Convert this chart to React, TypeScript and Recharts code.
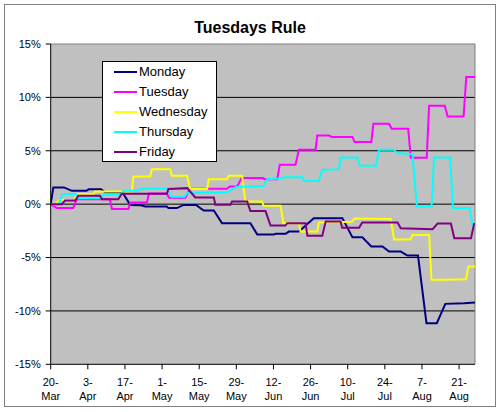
import React from 'react';
import { LineChart, Line, XAxis, YAxis, CartesianGrid, ReferenceLine, Legend } from 'recharts';

// x values are days counted from 20-Mar
const tickDays = [0, 14, 28, 42, 56, 70, 84, 98, 112, 126, 140, 154];
const tickDayLabels = ['20-', '3-', '17-', '1-', '15-', '29-', '12-', '26-', '10-', '24-', '7-', '21-'];
const tickMonthLabels = ['Mar', 'Apr', 'Apr', 'May', 'May', 'May', 'Jun', 'Jun', 'Jul', 'Jul', 'Aug', 'Aug'];
const yTicks = [-15, -10, -5, 0, 5, 10, 15];
const yGrid = [-10, -5, 0, 5, 10];

const monday: [number, number][] = [
  [0, 0], [1, 1.57], [5, 1.57], [8, 1.25], [13.5, 1.25], [14.3, 1.39], [19, 1.39], [20.5, 1.11],
  [27, 1.11], [30, -0.07], [34, -0.1], [35.6, -0.22], [43.8, -0.22], [44.4, -0.37], [47.6, -0.37],
  [50.1, -0.07], [54.8, -0.07], [57.7, -0.6], [61.5, -0.6], [64.6, -1.78], [75.3, -1.78], [77.9, -2.85],
  [84.1, -2.85], [84.8, -2.78], [88.6, -2.78], [89.8, -2.57], [93.6, -2.57], [99.2, -1.31], [110, -1.31],
  [113.8, -3.11], [117.5, -3.11], [120.9, -3.97], [125.1, -3.97], [127.6, -4.44], [132, -4.44],
  [134.5, -4.82], [138.5, -4.82], [141.7, -11.15], [145.6, -11.15], [148.8, -9.34], [155.9, -9.28], [160, -9.22],
];

const tuesday: [number, number][] = [
  [0, 0], [2.3, -0.37], [8.5, -0.37], [9.8, 0.45], [22.3, 0.45], [23.1, -0.45], [29.3, -0.45], [30, 0.15],
  [36.3, 0.15], [37, 1.0], [43.8, 1.0], [44.6, 0.6], [50.8, 0.6], [52.5, 1.45], [66.5, 1.45], [67.5, 1.65],
  [70.3, 1.65], [72, 2.44], [80, 2.44], [80.6, 2.34], [85.4, 2.34], [86.4, 3.68], [92.3, 3.68], [93.6, 5.09],
  [99.9, 5.09], [100.5, 6.43], [105, 6.43], [106, 6.3], [113.8, 6.3], [114.6, 5.81], [120.9, 5.81],
  [121.7, 7.53], [127.6, 7.53], [128.6, 7.06], [134.8, 7.06], [135.8, 4.34], [141.8, 4.34], [142.7, 9.21],
  [148.6, 9.21], [149.7, 8.21], [155.7, 8.21], [156.7, 11.9], [160, 11.9],
];

const wednesday: [number, number][] = [
  [0, 0], [2, 0], [3.3, 0.4], [9, 0.4], [9.8, 0.95], [16.1, 0.95], [16.7, 1.18], [30.6, 1.18], [31.2, 2.59],
  [37.5, 2.59], [38.2, 3.28], [45.1, 3.28], [45.7, 2.65], [51.4, 2.65], [52.6, 1.41], [59, 1.41],
  [59.6, 2.34], [66.5, 2.34], [67.1, 2.65], [72.2, 2.65], [73.4, 0.24], [79.7, 0.24], [80.3, -0.16],
  [86.7, -0.16], [87.7, -1.78], [93.6, -1.78], [94.2, -2.57], [100.5, -2.57], [101.1, -1.72],
  [113.5, -1.65], [114.5, -1.35], [128.2, -1.4], [129.5, -3.3], [135.8, -3.3], [136.4, -2.88],
  [142.7, -2.88], [143.6, -7.09], [149.7, -7.09], [156.6, -7.03], [157.5, -5.85], [160, -5.85],
];

const thursday: [number, number][] = [
  [0, 0], [3, 0], [4.5, 0.95], [9.5, 0.95], [10.5, 0.55], [19, 0.55], [20, 0.9], [26.5, 0.9], [27.5, 1.25],
  [33, 1.25], [34, 1.45], [44, 1.45], [45.5, 0.7], [50.5, 0.7], [51.5, 1.05], [66.5, 1.12], [68, 1.34],
  [70, 1.6], [80.3, 1.7], [81.6, 2.34], [86.5, 2.4], [87.9, 2.53], [94.9, 2.53], [95.5, 2.18], [101.1, 2.18],
  [102.4, 3.21], [108.7, 3.28], [109.3, 4.37], [115.6, 4.37], [116.6, 3.59], [122.6, 3.59], [123.8, 5.09],
  [129.5, 5.09], [130.5, 4.78], [136.4, 4.69], [138.1, -0.22], [143.6, -0.22], [144.6, 4.37], [150.6, 4.37],
  [151.7, -0.37], [157.9, -0.37], [159.1, -1.94], [160, -1.94],
];

const friday: [number, number][] = [
  [0, 0], [4.2, 0], [5.4, 0.34], [9.2, 0.34], [10.4, 0.78], [18.6, 0.78], [19.3, 0.47], [25.5, 0.47],
  [26.8, 0.97], [43.8, 0.97], [44.4, 1.43], [51.5, 1.5], [54.5, 0.63], [61.5, 0.63], [62.1, -0.05],
  [67.8, -0.05], [68.4, 0.24], [74.1, 0.24], [75.3, -0.65], [81, -0.65], [82.9, -2.0], [88.5, -2.0],
  [89.2, -1.78], [96.1, -1.78], [96.8, -2.97], [102.4, -2.97], [103.7, -1.63], [109.3, -1.63],
  [109.9, -2.2], [116.3, -2.2], [117.5, -1.72], [130.8, -1.72], [132, -2.25], [144, -2.34], [145.9, -1.82],
  [150.9, -1.82], [152.2, -3.19], [158.5, -3.19], [159.7, -1.78],
];

const seriesNames = ['Monday', 'Tuesday', 'Wednesday', 'Thursday', 'Friday'];
const seriesColors = ['#000080', '#FF00FF', '#FFFF00', '#00FFFF', '#800080'];
const seriesPoints = [monday, tuesday, wednesday, thursday, friday];

const FONT = '"Liberation Sans", Arial, sans-serif';

const toRows = (pts: [number, number][]) => pts.map(([d, v]) => ({ d, v }));

const XTick = (props: any) => {
  const { x, y, payload } = props;
  const i = tickDays.indexOf(payload.value);
  return (
    <text x={x} y={y} textAnchor="middle" fontSize={11} fontFamily={FONT} fill="#000">
      <tspan x={x} dy={15}>{tickDayLabels[i]}</tspan>
      <tspan x={x} dy={13.4}>{tickMonthLabels[i]}</tspan>
    </text>
  );
};

const LegendBox = () => (
  <div
    style={{
      width: 115,
      height: 101,
      background: '#fff',
      border: '1px solid #000',
      boxSizing: 'border-box',
      fontFamily: FONT,
      fontSize: 13,
      color: '#000',
    }}
  >
    {seriesNames.map((name, i) => (
      <div key={name} style={{ height: 20, display: 'flex', alignItems: 'center' }}>
        <div style={{ marginLeft: 11, width: 23, height: 2, background: seriesColors[i] }} />
        <span style={{ marginLeft: 2, lineHeight: '20px', whiteSpace: 'nowrap' }}>{name}</span>
      </div>
    ))}
  </div>
);

export default function App() {
  return (
    <div style={{ position: 'absolute', left: 0, top: 0, width: 500, height: 412, background: '#fff' }}>
      <div
        style={{
          position: 'absolute',
          left: 4,
          top: 4,
          width: 492,
          height: 403,
          border: '1px solid #808080',
          boxSizing: 'border-box',
        }}
      />
      <div
        style={{
          position: 'absolute',
          left: 4,
          top: 18,
          width: 492,
          textAlign: 'center',
          fontFamily: FONT,
          fontWeight: 'bold',
          fontSize: 16,
          lineHeight: '20px',
          color: '#000',
        }}
      >
        Tuesdays Rule
      </div>
      <div style={{ position: 'absolute', left: 0, top: 0 }}>
        <LineChart width={500} height={412} margin={{ top: 44, right: 25, left: 0, bottom: 0 }}>
          <CartesianGrid
            horizontal
            vertical={false}
            horizontalValues={yGrid}
            stroke="#000"
            strokeWidth={1}
            fill="#C0C0C0"
            fillOpacity={1}
          />
          <XAxis
            type="number"
            dataKey="d"
            domain={[0, 160]}
            ticks={tickDays}
            interval={0}
            allowDataOverflow
            height={47.7}
            tickSize={5}
            tickMargin={2}
            axisLine={{ stroke: '#000' }}
            tickLine={{ stroke: '#000' }}
            tick={<XTick />}
          />
          <YAxis
            type="number"
            domain={[-15, 15]}
            ticks={yTicks}
            interval={0}
            width={50.7}
            tickSize={5}
            tickMargin={5}
            axisLine={{ stroke: '#000' }}
            tickLine={{ stroke: '#000' }}
            tickFormatter={(v: number) => `${v}%`}
            tick={{ fontSize: 11, fill: '#000', fontFamily: FONT }}
          />
          <ReferenceLine y={15} stroke="#808080" />
          <ReferenceLine x={160} stroke="#808080" />
          {seriesPoints.map((pts, i) => (
            <Line
              key={seriesNames[i]}
              data={toRows(pts)}
              dataKey="v"
              name={seriesNames[i]}
              type="linear"
              stroke={seriesColors[i]}
              strokeWidth={2}
              dot={false}
              activeDot={false}
              isAnimationActive={false}
            />
          ))}
          <Legend
            layout="vertical"
            align="center"
            verticalAlign="middle"
            content={<LegendBox />}
            wrapperStyle={{ position: 'absolute', left: 102, top: 61, width: 115, height: 101 }}
          />
        </LineChart>
      </div>
    </div>
  );
}
